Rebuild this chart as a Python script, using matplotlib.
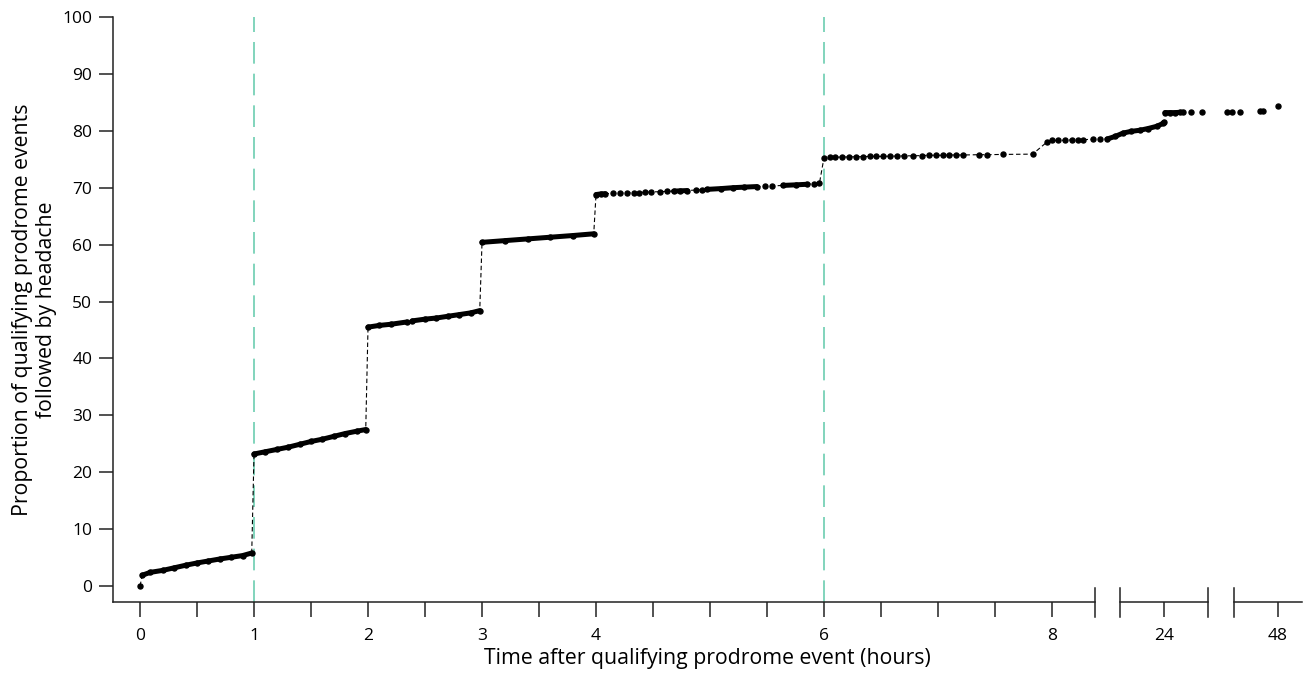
import matplotlib.pyplot as plt
import numpy as np

plt.rcParams['font.family'] = ['Open Sans', 'DejaVu Sans']

# time after qualifying prodrome event (hours) and cumulative % followed by headache
hours = [0.0, 0.02, 0.09, 0.2, 0.3, 0.4, 0.5, 0.6, 0.7, 0.8, 0.9, 0.98,
         1.0, 1.1, 1.2, 1.3, 1.4, 1.5, 1.6, 1.7, 1.8, 1.9, 1.98,
         2.0, 2.1, 2.2, 2.34, 2.39, 2.5, 2.6, 2.7, 2.8, 2.9, 2.98,
         3.0, 3.2, 3.4, 3.6, 3.8, 3.98,
         4.0, 4.04, 4.08, 4.15, 4.21, 4.27, 4.33, 4.38, 4.43, 4.48, 4.56, 4.62,
         4.68, 4.74, 4.8, 4.88, 4.93, 4.97, 5.1, 5.2, 5.3, 5.41, 5.48, 5.54,
         5.64, 5.75, 5.85, 5.91, 5.96,
         6.0, 6.05, 6.1, 6.16, 6.22, 6.28, 6.34, 6.4, 6.46, 6.52, 6.58, 6.64,
         6.7, 6.78, 6.86, 6.92, 6.98, 7.04, 7.1, 7.16, 7.22, 7.36, 7.43, 7.57, 7.83,
         7.96, 8.0, 8.86, 9.86, 10.86, 11.7, 12.4, 13.86, 14.86, 15.86,
         17.0, 18.15, 19.29, 20.57, 21.72, 23.0, 23.86, 24.0,
         24.2, 25.3, 26.3, 27.4, 28.0, 29.7, 32.0, 37.3, 38.3, 40.0, 44.2, 44.8, 48.0]
pct = [0.0, 1.9, 2.4, 2.75, 3.2, 3.65, 4.05, 4.4, 4.75, 5.05, 5.35, 5.8,
       23.2, 23.6, 24.0, 24.4, 24.9, 25.4, 25.8, 26.3, 26.8, 27.2, 27.5,
       45.5, 45.8, 46.0, 46.4, 46.6, 46.9, 47.1, 47.4, 47.7, 48.0, 48.4,
       60.4, 60.7, 61.0, 61.3, 61.6, 61.9,
       68.8, 68.9, 68.95, 69.0, 69.05, 69.1, 69.1, 69.15, 69.2, 69.25, 69.3, 69.35,
       69.4, 69.45, 69.5, 69.6, 69.65, 69.7, 69.85, 70.0, 70.1, 70.2, 70.25, 70.3,
       70.4, 70.5, 70.6, 70.7, 70.8,
       75.3, 75.35, 75.35, 75.4, 75.4, 75.45, 75.45, 75.5, 75.5, 75.5, 75.55, 75.55,
       75.6, 75.6, 75.65, 75.7, 75.7, 75.7, 75.75, 75.75, 75.75, 75.8, 75.8, 75.85, 75.9,
       78.1, 78.3, 78.3, 78.35, 78.4, 78.4, 78.45, 78.5, 78.5, 78.55,
       79.0, 79.6, 79.9, 80.1, 80.4, 80.8, 81.3, 81.5,
       83.2, 83.2, 83.2, 83.25, 83.25, 83.3, 83.3, 83.35, 83.35, 83.35, 83.5, 83.5, 84.4]

# stretches where observations are so dense they merge into a solid line
dense_runs = [(0.02, 0.98), (1.0, 1.98), (2.0, 2.34), (2.39, 2.98), (3.0, 3.98),
              (4.0, 4.08), (4.68, 4.8), (4.97, 5.41), (5.64, 5.85),
              (15.86, 24.0), (24.2, 28.0)]

ref_lines = [1, 6]

tick_hours = [0, 0.5, 1, 1.5, 2, 2.5, 3, 3.5, 4, 4.5, 5, 5.5, 6, 6.5, 7, 7.5, 8, 24, 48]
tick_labels = ['0', '', '1', '', '2', '', '3', '', '4', '', '', '', '6', '', '', '', '8', '24', '48']

# piecewise time axis: 0-8 h linear, 8-24 h and 24-48 h compressed
knots_h = [-10, 8, 24, 100]
knots_u = [-10, 8, 8.982, 8.982 + 76 / 24]


def fwd(x):
    return np.interp(x, knots_h, knots_u)


def inv(u):
    return np.interp(u, knots_u, knots_h)


h = np.array(hours)
v = np.array(pct)

fig = plt.figure(figsize=(13.07, 6.75), dpi=100)
ax = fig.add_axes([113 / 1307, 1 - 602 / 675, (1302 - 113) / 1307, (602 - 17) / 675])
ax.set_xscale('function', functions=(fwd, inv))

green = '#6ccdb0'
for x in ref_lines:
    ax.axvline(x, color=green, lw=1.2, dashes=(13, 6), zorder=1)

# dashed connector through observations up to 24 h
m = h <= 24
ax.plot(h[m], v[m], color='k', lw=0.8, dashes=(4, 2.5), zorder=2)
ax.plot(h, v, 'o', color='k', ms=3.6, mec='k', zorder=3)
for a, b in dense_runs:
    m = (h >= a) & (h <= b)
    ax.plot(h[m], v[m], color='k', lw=3.6, solid_capstyle='round', zorder=3)

ax.set_xlim(-0.237, 53.06)
ax.set_ylim(-2.81, 100)

axc = '#222222'
for s in ['top', 'right', 'bottom']:
    ax.spines[s].set_visible(False)
ax.spines['left'].set_color(axc)
ax.spines['left'].set_linewidth(1.1)

# broken x axis drawn by hand
pieces = [(0, 0.8263), (0.8473, 0.9209), (0.9428, 1.0)]
for a, b in pieces:
    ax.plot([a, b], [0, 0], transform=ax.transAxes, clip_on=False, color=axc, lw=1.1)
for xb in [0.8263, 0.8473, 0.9209, 0.9428]:
    ax.plot([xb, xb], [-0.0256, 0.0239], transform=ax.transAxes, clip_on=False,
            color=axc, lw=1.1)

ax.set_xticks(tick_hours, tick_labels)
ax.set_xticks([], minor=True)
ax.set_yticks(range(0, 101, 10))
ax.tick_params(axis='x', length=10.8, width=1.1, pad=8, labelsize=12.5, color=axc)
ax.tick_params(axis='y', length=10, width=1.1, pad=5, labelsize=12.5, color=axc)

ax.set_xlabel('Time after qualifying prodrome event (hours)', fontsize=15.3, labelpad=3)
ax.set_ylabel('Proportion of qualifying prodrome events\nfollowed by headache',
              fontsize=15.3, labelpad=4, linespacing=1.15)

fig.savefig('out.png', dpi=100)
